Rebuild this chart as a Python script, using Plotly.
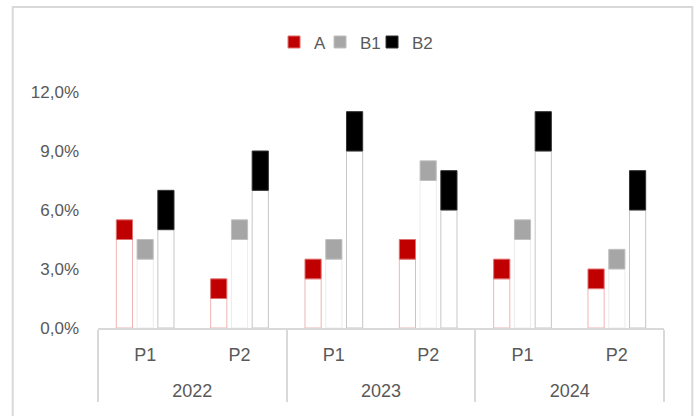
import plotly.graph_objects as go

years = ["2022", "2022", "2023", "2023", "2024", "2024"]
periods = ["P1", "P2", "P1", "P2", "P1", "P2"]

a_lo = [4.5, 1.5, 2.5, 3.5, 2.5, 2.0]
a_hi = [5.5, 2.5, 3.5, 4.5, 3.5, 3.0]
b1_lo = [3.5, 4.5, 3.5, 7.5, 4.5, 3.0]
b1_hi = [4.5, 5.5, 4.5, 8.5, 5.5, 4.0]
b2_lo = [5.0, 7.0, 9.0, 6.0, 9.0, 6.0]
b2_hi = [7.0, 9.0, 11.0, 8.0, 11.0, 8.0]

y_ticks = [0, 3, 6, 9, 12]
y_labels = ["0,0%", "3,0%", "6,0%", "9,0%", "12,0%"]

series = [
    ("A", a_lo, a_hi, "#c00000", "#e07070", "#f0b4b4", 1),
    ("B1", b1_lo, b1_hi, "#a6a6a6", "#c0c0c0", "#ececec", 7),
    ("B2", b2_lo, b2_hi, "#000000", "#333333", "#c6c6c6", 30),
]

FONT = "Liberation Sans, Arial, sans-serif"
TXT = "#595959"

# second (blank) line under each period label leaves room for the year row
period_labels = [p + "<br>\u00a0" for p in periods]
x = [years, period_labels]

fig = go.Figure()
for name, lo, hi, fill, edge, base_edge, lw in series:
    fig.add_trace(go.Bar(
        x=x, y=lo, offsetgroup=name, showlegend=False, hoverinfo="skip",
        marker=dict(color="white", line=dict(color=base_edge, width=1)),
    ))
    fig.add_trace(go.Bar(
        x=x, y=[h - l for h, l in zip(hi, lo)], base=lo, offsetgroup=name, name=name,
        legendwidth=lw,
        marker=dict(color=fill, line=dict(color=edge, width=1)),
    ))

fig.update_layout(
    width=695, height=416,
    margin=dict(l=98, r=31, t=92, b=88),
    paper_bgcolor="white", plot_bgcolor="white",
    barmode="group", bargap=0.34, bargroupgap=0.22,
    separators=",.",
    font=dict(family=FONT, size=18, color=TXT),
    legend=dict(orientation="h", x=0.311, xanchor="left", y=1.21, yanchor="middle",
                font=dict(size=17, color=TXT), traceorder="normal"),
    shapes=[dict(type="rect", xref="paper", yref="paper",
                 x0=-0.1507, x1=1.05, y0=-0.45, y1=1.36,
                 line=dict(color="#d9d9d9", width=2), fillcolor="rgba(0,0,0,0)", layer="below")],
)
fig.update_yaxes(range=[0, 12], tickvals=y_ticks, ticktext=y_labels,
                 showgrid=False, zeroline=False, showline=False, ticklabelstandoff=18,
                 tickfont=dict(size=17, color=TXT))
fig.update_xaxes(type="multicategory", showline=True, linecolor="#d9d9d9", linewidth=2,
                 showdividers=True, dividercolor="#d9d9d9", dividerwidth=2,
                 ticklabelstandoff=9,
                 tickfont=dict(size=18, color=TXT), showgrid=False)

fig.write_html("out.html")
